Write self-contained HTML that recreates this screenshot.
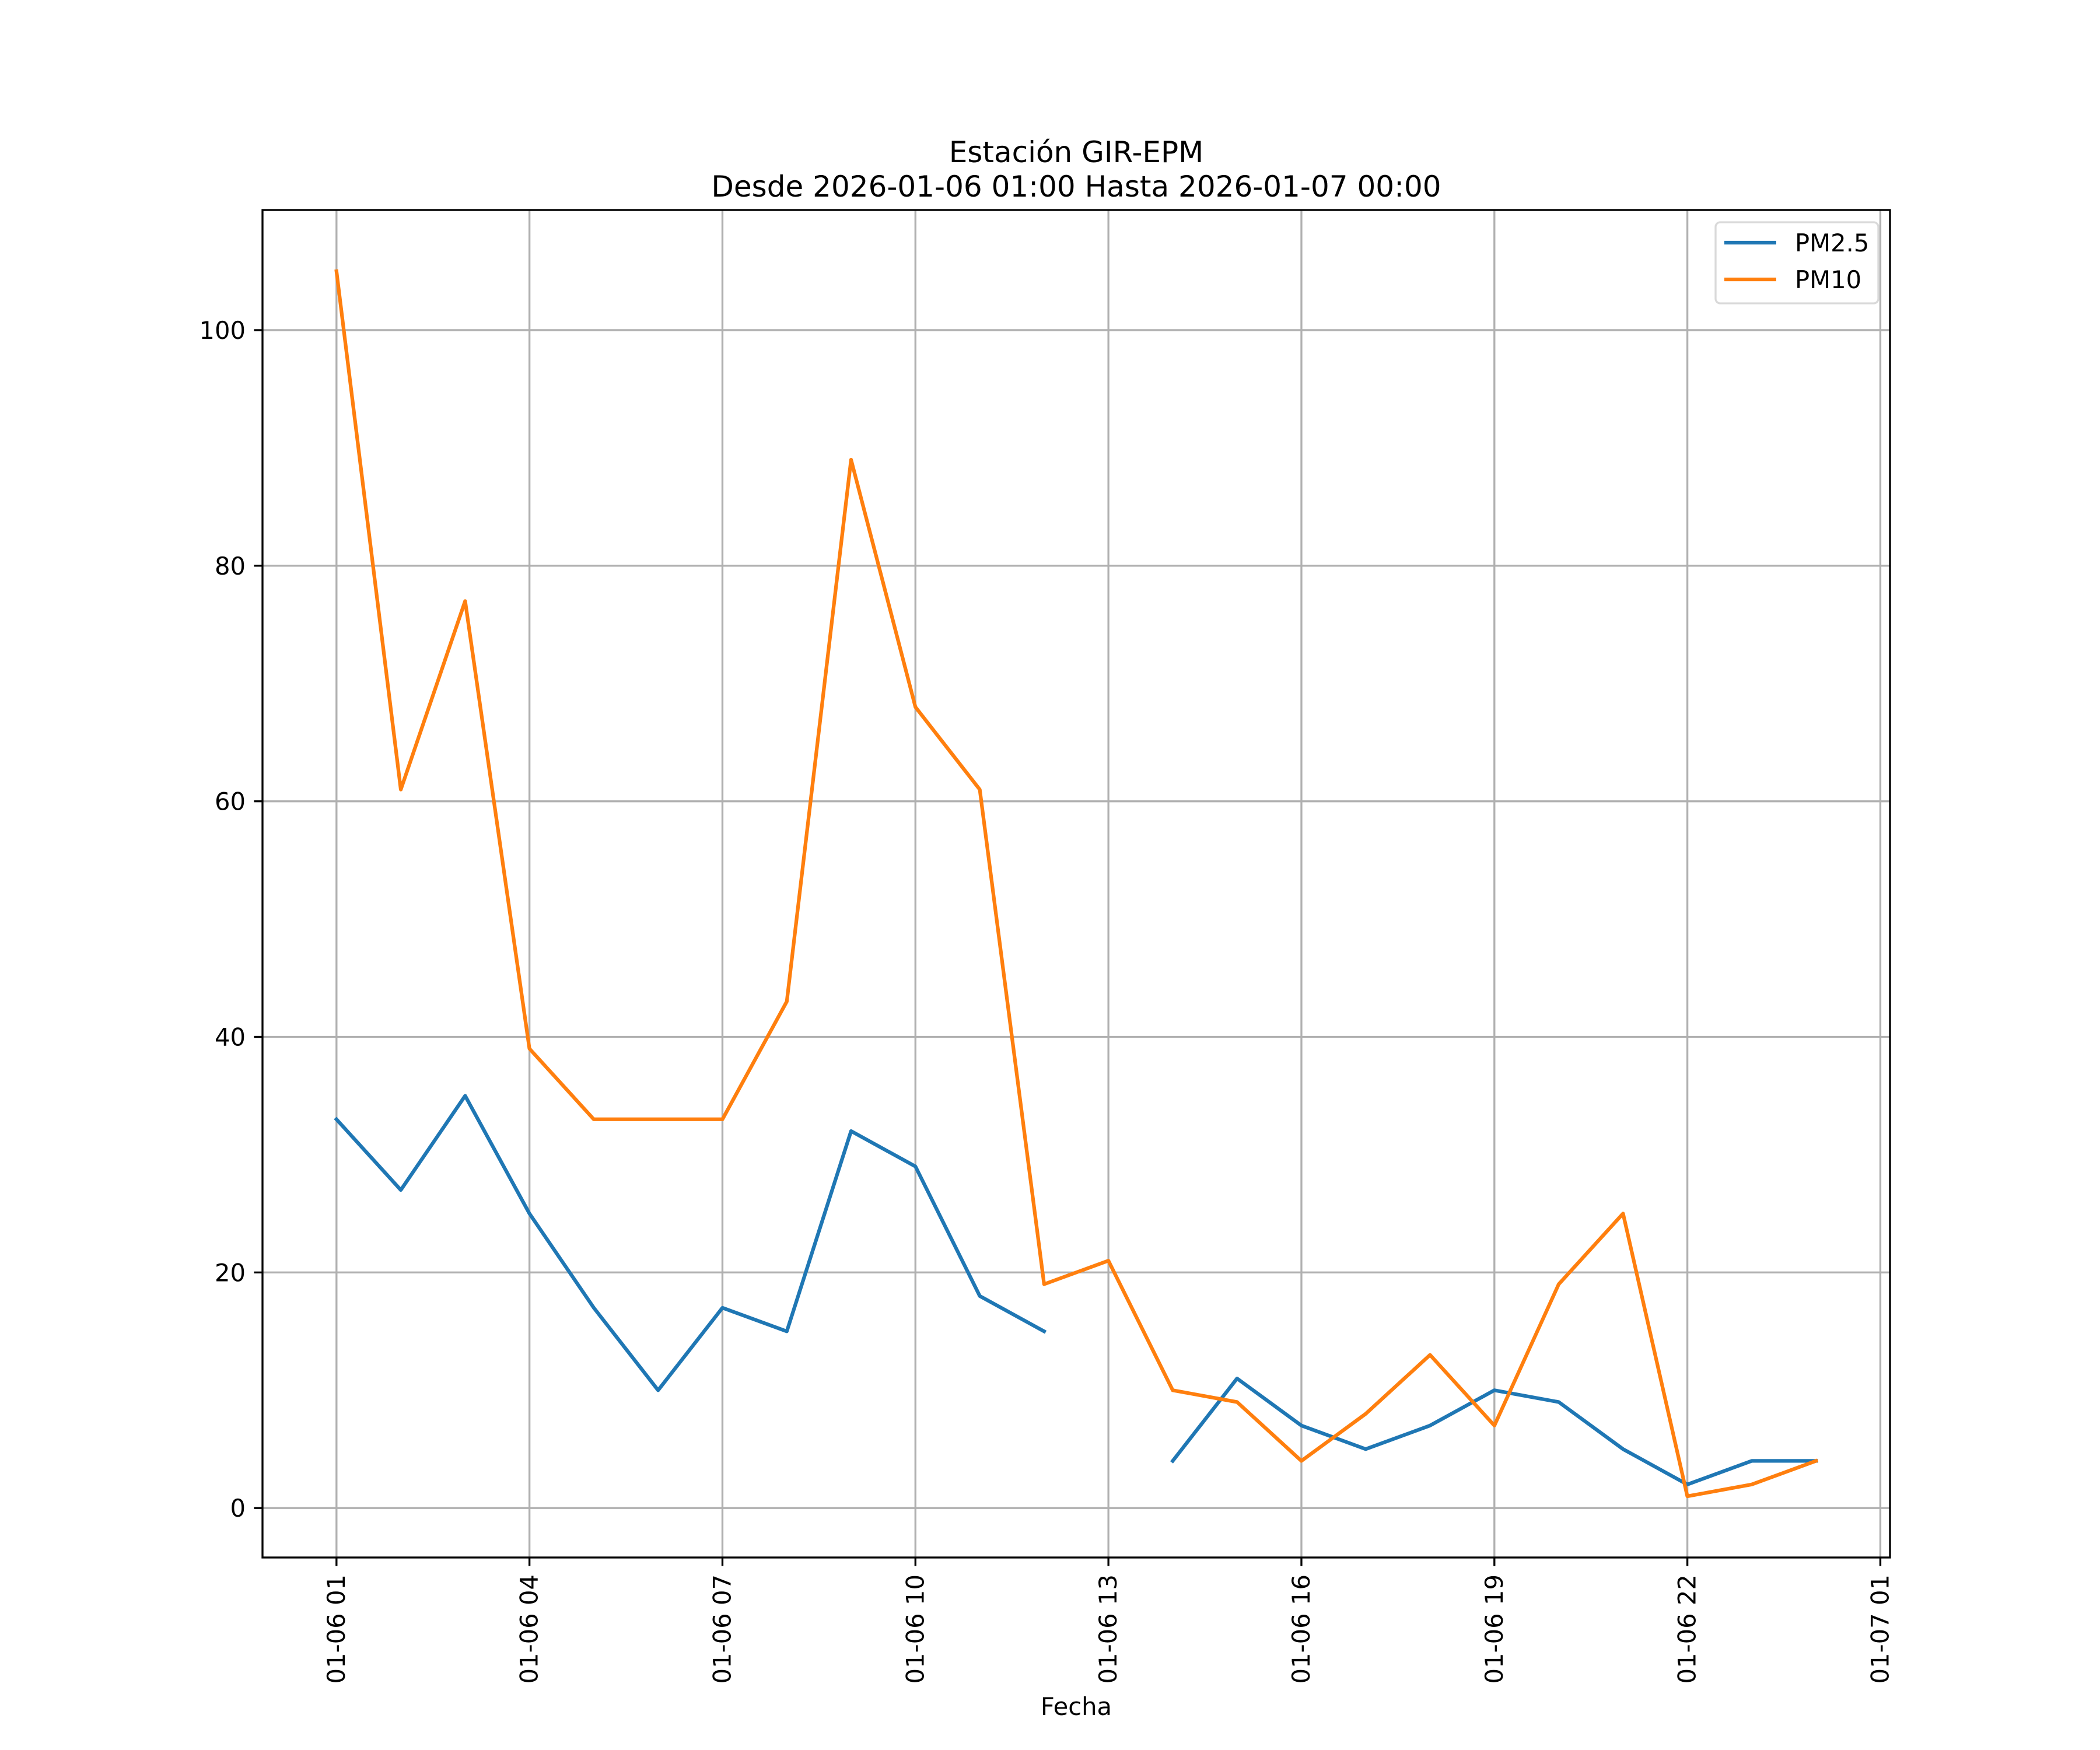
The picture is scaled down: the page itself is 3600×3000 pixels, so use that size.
<!DOCTYPE html>
<html><head><meta charset="utf-8"><style>
html,body{margin:0;padding:0;background:#fff;}
svg{display:block;font-family:"DejaVu Sans","Liberation Sans",sans-serif;}
</style></head><body>
<svg id="chart" width="3600" height="3000" viewBox="0 0 3600 3000" xmlns="http://www.w3.org/2000/svg">
<rect width="3600" height="3000" fill="#fff"/>
<text x="1845" y="278" font-size="50" text-anchor="middle">Estación GIR-EPM</text>
<text x="1845" y="337" font-size="50" text-anchor="middle">Desde 2026-01-06 01:00 Hasta 2026-01-07 00:00</text>
<g id="grid"></g>
<g id="series"></g>
<rect x="450" y="360" width="2790" height="2310" fill="none" stroke="#000" stroke-width="3.33"/>
<g id="ticks"></g>
<text x="1845" y="2940" font-size="41.7" text-anchor="middle">Fecha</text>
<g>
<rect x="2941" y="381" width="279" height="139" rx="8" fill="#fff" fill-opacity="0.8" stroke="#d9d9d9" stroke-width="3.33"/>
<line x1="2956" y1="416" x2="3045" y2="416" stroke="#1f77b4" stroke-width="6.25"/>
<text x="3077" y="431" font-size="41.7">PM2.5</text>
<line x1="2956" y1="479" x2="3045" y2="479" stroke="#ff7f0e" stroke-width="6.25"/>
<text x="3077" y="494" font-size="41.7">PM10</text>
</g>
</svg>
<script>
const hours = [1,2,3,4,5,6,7,8,9,10,11,12,13,14,15,16,17,18,19,20,21,22,23,24];
const pm25 = [33,27,35,25,17,10,17,15,32,29,18,15,null,4,11,7,5,7,10,9,5,2,4,4];
const pm10 = [105,61,77,39,33,33,33,43,89,68,61,19,21,10,9,4,8,13,7,19,25,1,2,4];
const xTickHours = [1,4,7,10,13,16,19,22,25];
const xTickLabels = ["01-06 01","01-06 04","01-06 07","01-06 10","01-06 13","01-06 16","01-06 19","01-06 22","01-07 01"];
const yTicks = [0,20,40,60,80,100];

const L=450,R=3240,T=360,B=2670;
const xmin=-0.15,xmax=25.15,ymin=-4.2,ymax=110.2;
const xs=h=>L+(h-xmin)/(xmax-xmin)*(R-L);
const ys=v=>B-(v-ymin)/(ymax-ymin)*(B-T);
const NS="http://www.w3.org/2000/svg";
function mk(tag,attrs,parent){const e=document.createElementNS(NS,tag);for(const k in attrs)e.setAttribute(k,attrs[k]);parent.appendChild(e);return e;}
const grid=document.getElementById('grid'),ticks=document.getElementById('ticks'),series=document.getElementById('series');

xTickHours.forEach((h,i)=>{
  const x=xs(h);
  const g=mk('line',{x1:x,y1:T,x2:x,y2:B,stroke:'#b0b0b0','stroke-width':3.33},grid);
  
  
  const t=mk('line',{x1:x,y1:B,x2:x,y2:B+14.6,stroke:'#000','stroke-width':3.33},ticks);
  
  
  const lb=mk('text',{x:0,y:0,'font-size':41.7,'text-anchor':'end',transform:`translate(${x+14},${B+29}) rotate(-90)`},ticks);
  
  
  lb.textContent=xTickLabels[i];
});
yTicks.forEach(v=>{
  const y=ys(v);
  const g=mk('line',{x1:L,y1:y,x2:R,y2:y,stroke:'#b0b0b0','stroke-width':3.33},grid);
  
  
  const t=mk('line',{x1:L-14.6,y1:y,x2:L,y2:y,stroke:'#000','stroke-width':3.33},ticks);
  
  
  const lb=mk('text',{x:L-29,y:y+15,'font-size':41.7,'text-anchor':'end'},ticks);
  
  
  lb.textContent=v;
});
function draw(vals,color,name){
  let d='',pen=false;
  vals.forEach((v,i)=>{
    if(v===null){pen=false;return;}
    d+=(pen?'L':'M')+xs(hours[i]).toFixed(1)+' '+ys(v).toFixed(1)+' ';
    pen=true;
  });
  const p=mk('path',{d:d,fill:'none',stroke:color,'stroke-width':6.25,'stroke-linejoin':'round','stroke-linecap':'square'},series);
  
  
}
draw(pm25,'#1f77b4','pm25-line');
draw(pm10,'#ff7f0e','pm10-line');
</script>
</body></html>
